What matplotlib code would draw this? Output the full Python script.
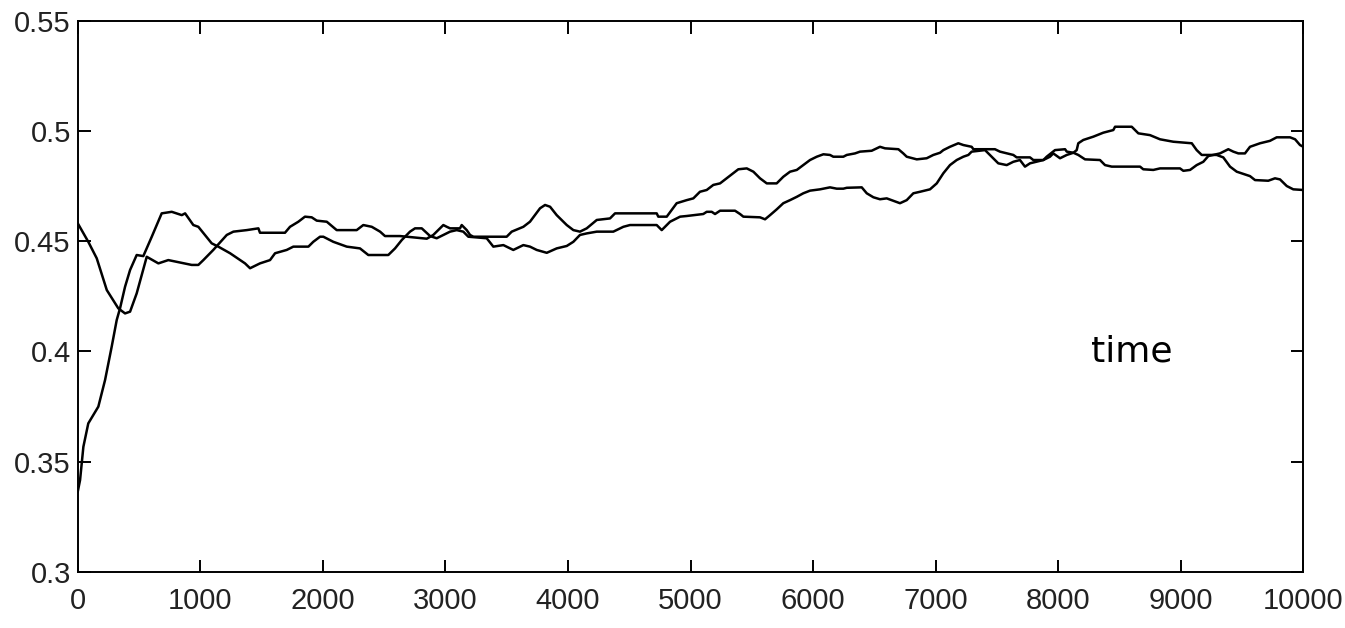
import numpy as np
import matplotlib
matplotlib.use("Agg")
import matplotlib.pyplot as plt
from matplotlib import font_manager

# run 1 (starts near 0.46, dips to ~0.42, peaks ~0.50 around t=8500)
t_a = [0, 86, 155, 237, 331, 386, 427, 481, 563, 658, 739, 930, 984,
       1025, 1106, 1216, 1270, 1379, 1474, 1487, 1691, 1732, 1800, 1854, 1909,
       1950, 2032, 2113, 2276, 2330, 2399, 2467, 2507, 2630, 2848, 2901, 2956,
       2983, 3011, 3038, 3119, 3133, 3174, 3201, 3228, 3500, 3541, 3636, 3690,
       3772, 3813, 3854, 3908, 3990, 4044, 4098, 4153, 4235, 4343, 4384, 4724,
       4737, 4806, 4887, 4969, 5023, 5077, 5132, 5186, 5241, 5295, 5349, 5390,
       5459, 5513, 5567, 5622, 5703, 5757, 5812, 5867, 5920, 5975, 6030, 6084,
       6138, 6165, 6247, 6275, 6342, 6383, 6478, 6546, 6587, 6696, 6736, 6764,
       6846, 6927, 6981, 7036, 7063, 7117, 7185, 7226, 7294, 7308, 7484, 7525,
       7634, 7661, 7770, 7797, 7879, 7906, 7974, 8056, 8070, 8124, 8151, 8164,
       8205, 8287, 8368, 8450, 8464, 8600, 8654, 8749, 8831, 8939, 9090, 9130,
       9171, 9293, 9347, 9402, 9457, 9565, 9606, 9714, 9769, 9810, 9865, 9918,
       10000]
v_a = [0.4581, 0.4497, 0.4422, 0.4278, 0.4195, 0.4172, 0.4180, 0.4263, 0.4429,
       0.4399, 0.4414, 0.4392, 0.4392,
       0.4414, 0.4460, 0.4528, 0.4543, 0.4550, 0.4558, 0.4538, 0.4538, 0.4565,
       0.4588, 0.4611, 0.4608, 0.4593, 0.4588, 0.4550, 0.4550, 0.4573, 0.4565,
       0.4543, 0.4523, 0.4523, 0.4511, 0.4528, 0.4558,
       0.4573, 0.4565, 0.4558, 0.4558, 0.4573, 0.4550, 0.4528, 0.4520, 0.4520,
       0.4543, 0.4565, 0.4588, 0.4649, 0.4664, 0.4656, 0.4618, 0.4573, 0.4550,
       0.4543, 0.4558, 0.4596, 0.4603, 0.4626, 0.4626, 0.4611, 0.4611, 0.4672,
       0.4686, 0.4694, 0.4724, 0.4732, 0.4755, 0.4762, 0.4785, 0.4808, 0.4826,
       0.4830, 0.4815, 0.4785, 0.4762, 0.4762, 0.4792, 0.4815, 0.4823, 0.4845,
       0.4868, 0.4883, 0.4894, 0.4891, 0.4883, 0.4883, 0.4891, 0.4898, 0.4906,
       0.4910, 0.4928, 0.4921, 0.4917, 0.4898, 0.4883, 0.4871, 0.4876, 0.4891,
       0.4901, 0.4913, 0.4928, 0.4944, 0.4936, 0.4928, 0.4917, 0.4917, 0.4906,
       0.4891, 0.4880, 0.4880, 0.4868, 0.4868, 0.4883, 0.4913, 0.4917, 0.4906,
       0.4901, 0.4913, 0.4944, 0.4959, 0.4974, 0.4992, 0.5004, 0.5019, 0.5019,
       0.4989, 0.4981, 0.4962, 0.4951, 0.4944, 0.4913, 0.4891, 0.4891, 0.4880,
       0.4838, 0.4815, 0.4795, 0.4777, 0.4774, 0.4785, 0.4780, 0.4750, 0.4735,
       0.4732]

# run 2 (starts near 0.34, climbs fast, ends ~0.493)
t_b = [0, 19, 46, 86, 168, 223, 277, 318, 345, 386, 427, 481, 535, 604, 685,
       767, 849, 876, 943, 984, 1093, 1147, 1243, 1365, 1406, 1487, 1569, 1610,
       1705, 1759, 1882, 1922, 1977, 2004, 2085, 2195, 2303, 2371, 2534, 2589,
       2644, 2711, 2752, 2807, 2875, 2929, 2983, 3038, 3092, 3146, 3187, 3337,
       3391, 3473, 3554, 3636, 3690, 3745, 3827, 3908, 3990, 4044, 4098, 4153,
       4235, 4370, 4452, 4506, 4724, 4765, 4833, 4915, 4969, 5104, 5132, 5173,
       5200, 5241, 5363, 5404, 5431, 5567, 5608, 5649, 5703, 5757, 5812, 5867,
       5920, 5975, 6057, 6138, 6193, 6247, 6275, 6397, 6438, 6492, 6546, 6601,
       6655, 6709, 6764, 6818, 6873, 6954, 7009, 7063, 7117, 7172, 7226, 7267,
       7294, 7403, 7457, 7511, 7580, 7634, 7688, 7729, 7770, 7879, 7933, 7960,
       8015, 8070, 8124, 8164, 8219, 8341, 8382, 8437, 8668, 8694, 8776, 8831,
       8994, 9021, 9076, 9130, 9184, 9225, 9320, 9388, 9429, 9470, 9524, 9565,
       9647, 9728, 9783, 9892, 9933, 9973, 10000]
v_b = [0.3363, 0.3416, 0.3567, 0.3673, 0.3749, 0.3870, 0.4021, 0.4142, 0.4195,
       0.4293, 0.4369, 0.4437, 0.4432, 0.4520, 0.4626, 0.4633, 0.4618, 0.4626,
       0.4573, 0.4565, 0.4490, 0.4475, 0.4445, 0.4399, 0.4377, 0.4399, 0.4414,
       0.4445, 0.4460, 0.4475, 0.4475, 0.4497, 0.4520, 0.4520, 0.4497, 0.4475,
       0.4467, 0.4437, 0.4437, 0.4467, 0.4505, 0.4543, 0.4558, 0.4558, 0.4523,
       0.4513, 0.4528, 0.4543, 0.4550, 0.4543, 0.4520, 0.4513, 0.4475, 0.4482,
       0.4460, 0.4482, 0.4475, 0.4460, 0.4447, 0.4467, 0.4478, 0.4497, 0.4528,
       0.4535, 0.4543, 0.4543, 0.4565, 0.4573, 0.4573, 0.4550, 0.4588, 0.4611,
       0.4614, 0.4623, 0.4633, 0.4633, 0.4623, 0.4638, 0.4638, 0.4623, 0.4611,
       0.4608, 0.4599, 0.4618, 0.4644, 0.4672, 0.4686, 0.4701, 0.4717, 0.4729,
       0.4735, 0.4744, 0.4738, 0.4738, 0.4742, 0.4744, 0.4717, 0.4699, 0.4690,
       0.4694, 0.4683, 0.4672, 0.4686, 0.4717, 0.4724, 0.4735, 0.4762, 0.4808,
       0.4845, 0.4868, 0.4883, 0.4891, 0.4906, 0.4913, 0.4883, 0.4853, 0.4845,
       0.4860, 0.4868, 0.4838, 0.4853, 0.4868, 0.4883, 0.4898, 0.4876, 0.4891,
       0.4901, 0.4891, 0.4871, 0.4868, 0.4845, 0.4838, 0.4838, 0.4826, 0.4823,
       0.4830, 0.4830, 0.4819, 0.4823, 0.4845, 0.4860, 0.4886, 0.4898, 0.4917,
       0.4906, 0.4898, 0.4898, 0.4928, 0.4944, 0.4955, 0.4971, 0.4971, 0.4962,
       0.4936, 0.4928]

x_ticks = [0, 1000, 2000, 3000, 4000, 5000, 6000, 7000, 8000, 9000, 10000]
y_ticks = [0.3, 0.35, 0.4, 0.45, 0.5, 0.55]
y_labels = ["0.3", "0.35", "0.4", "0.45", "0.5", "0.55"]
note = "time"

# condensed sans for the tick labels if we have it
installed = {f.name for f in font_manager.fontManager.ttflist}
tick_font = "Liberation Sans Narrow" if "Liberation Sans Narrow" in installed else "Liberation Sans"
tick_size = 24 if tick_font == "Liberation Sans Narrow" else 21

fig = plt.figure(figsize=(13.45, 6.28), dpi=100)
ax = fig.add_axes([0.0578, 0.0896, 0.9112, 0.8774])

ax.plot(t_a, v_a, color="black", linewidth=1.8)
ax.plot(t_b, v_b, color="black", linewidth=1.8)

ax.set_xlim(0, 10000)
ax.set_ylim(0.3, 0.55)
ax.set_xticks(x_ticks)
ax.set_xticklabels([str(x) for x in x_ticks])
ax.set_yticks(y_ticks)
ax.set_yticklabels(y_labels)

for s in ax.spines.values():
    s.set_linewidth(1.4)
    s.set_color("black")

ax.tick_params(axis="both", direction="in", top=True, right=True,
               length=9, width=1.4, labelsize=tick_size, colors="black",
               labelcolor="#222222")
ax.tick_params(axis="x", pad=11)
ax.tick_params(axis="y", pad=5)
for lab in ax.get_xticklabels() + ax.get_yticklabels():
    lab.set_family(tick_font)

ax.text(8600, 0.40, note, fontsize=26, ha="center", va="center",
        family="DejaVu Sans")

fig.savefig("out.png", dpi=100)
